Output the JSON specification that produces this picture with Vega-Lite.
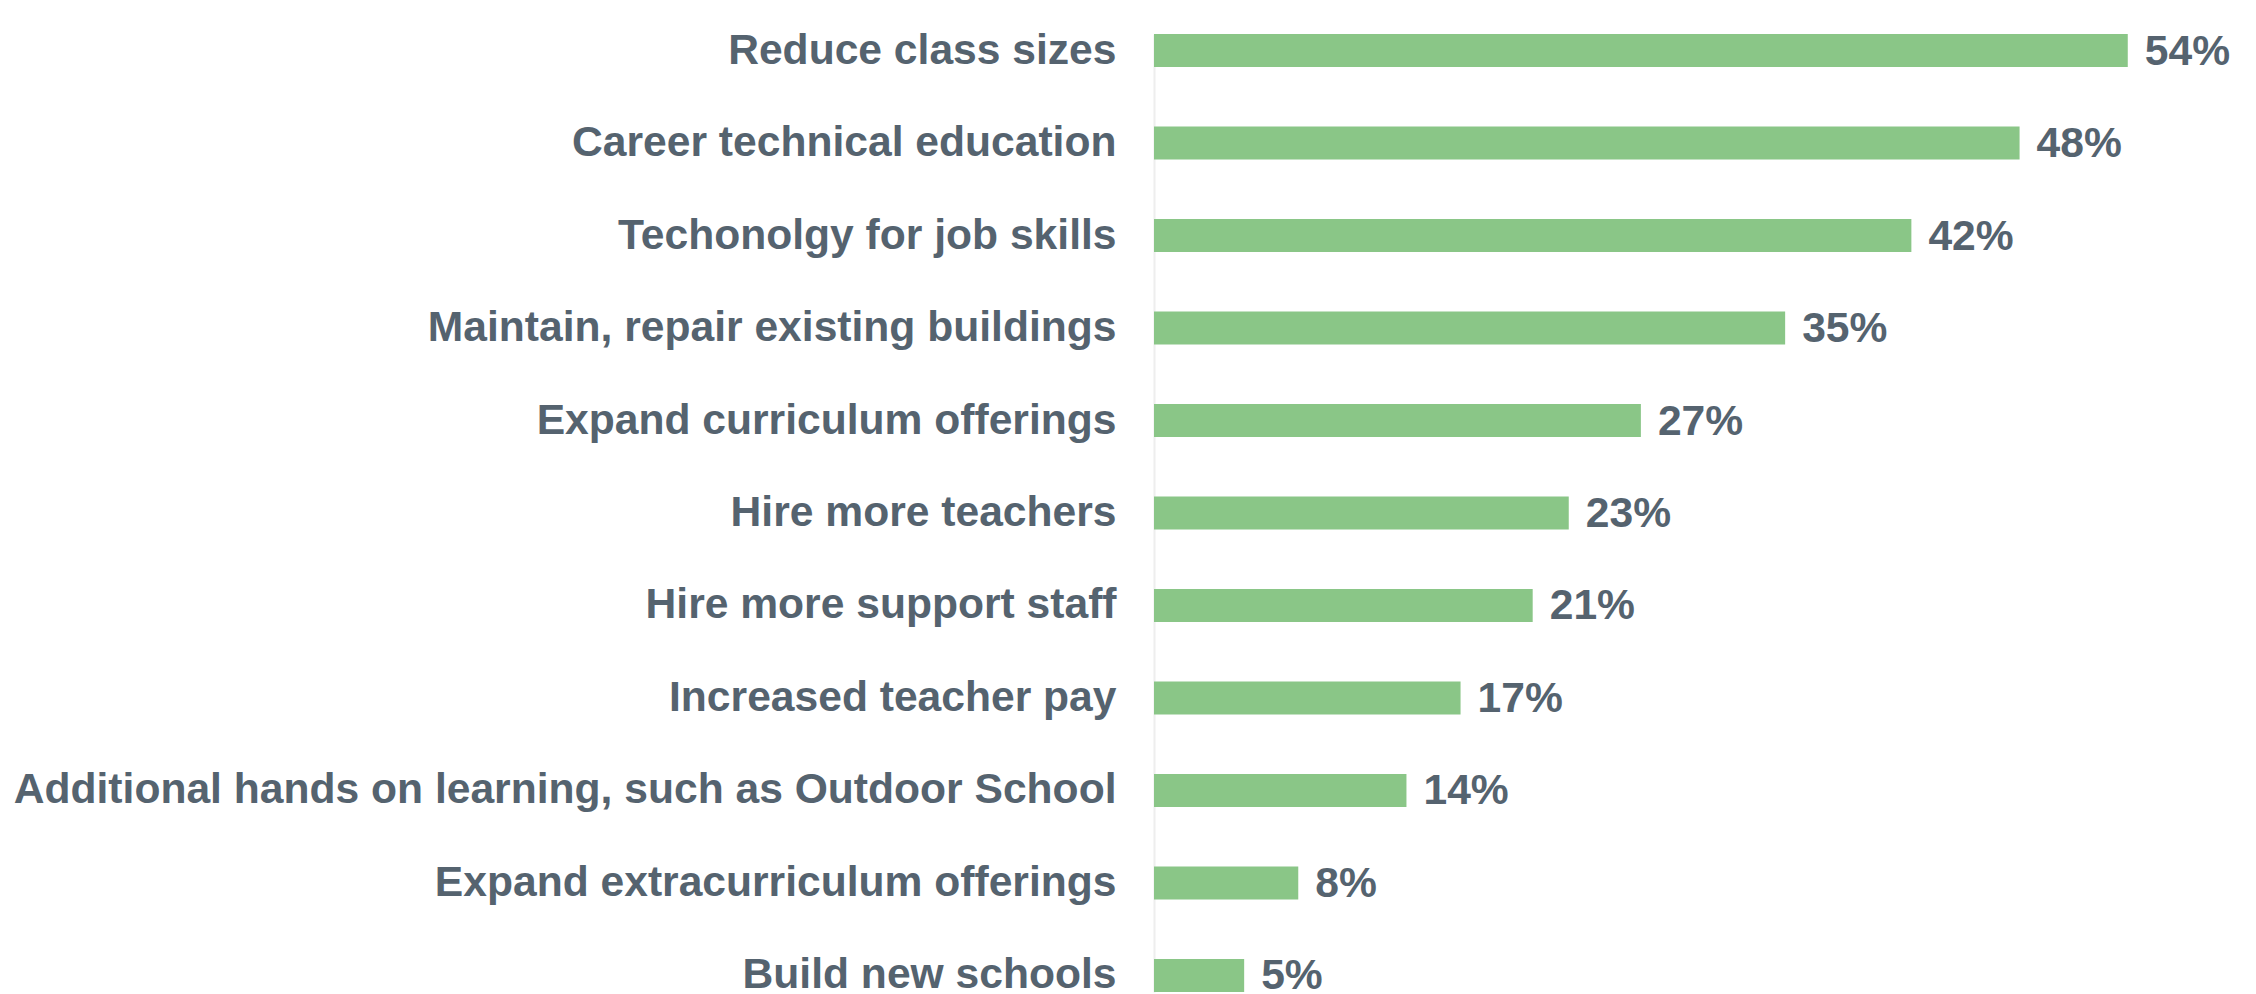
{
  "$schema": "https://vega.github.io/schema/vega-lite/v6.json",
  "width": 1100,
  "height": 990,
  "autosize": {"type": "none"},
  "padding": {"left": 1154, "top": 4, "right": 0, "bottom": 0},
  "background": "white",
  "config": {"view": {"stroke": null}},
  "data": {"values": [
    {"item": "Reduce class sizes", "pct": 0.54},
    {"item": "Career technical education", "pct": 0.48},
    {"item": "Techonolgy for job skills", "pct": 0.42},
    {"item": "Maintain, repair existing buildings", "pct": 0.35},
    {"item": "Expand curriculum offerings", "pct": 0.27},
    {"item": "Hire more teachers", "pct": 0.23},
    {"item": "Hire more support staff", "pct": 0.21},
    {"item": "Increased teacher pay", "pct": 0.17},
    {"item": "Additional hands on learning, such as Outdoor School", "pct": 0.14},
    {"item": "Expand extracurriculum offerings", "pct": 0.08},
    {"item": "Build new schools", "pct": 0.05}
  ]},
  "encoding": {
    "y": {"field": "item", "type": "nominal", "sort": null,
      "scale": {"range": [30, 988], "paddingInner": 0.643, "paddingOuter": 0},
      "axis": {"title": null, "ticks": false, "domain": true, "domainColor": "#eeeeee", "domainWidth": 2,
        "labelFont": "Liberation Sans", "labelFontWeight": "bold", "labelFontSize": 42.6,
        "labelColor": "#55636f", "labelPadding": 38, "labelLimit": 2000}},
    "x": {"field": "pct", "type": "quantitative", "scale": {"domain": [0, 0.61]}, "axis": null}
  },
  "layer": [
    {"mark": {"type": "bar", "color": "#8ac687"}},
    {"mark": {"type": "text", "align": "left", "baseline": "middle", "dx": 17, "dy": 1,
      "font": "Liberation Sans", "fontWeight": "bold", "fontSize": 42.6, "color": "#55636f"},
     "encoding": {"text": {"field": "pct", "type": "quantitative", "format": ".0%"}}}
  ]
}
